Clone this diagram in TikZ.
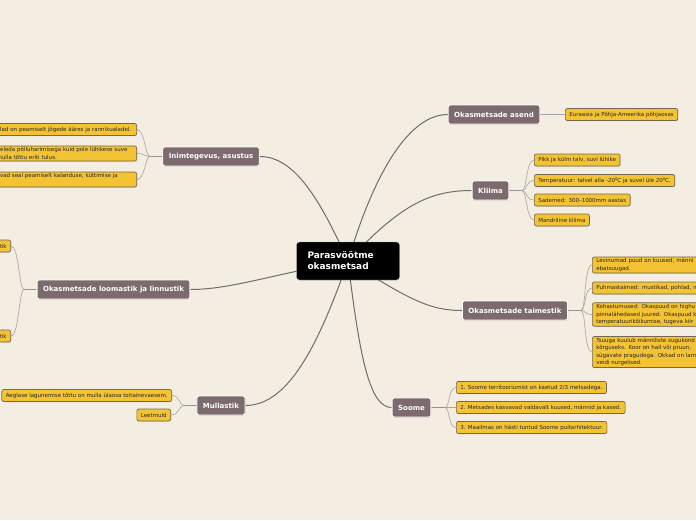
\documentclass[tikz,border=0pt]{standalone}
\usepackage{fontspec}
\setmainfont{DejaVu Sans}
\usetikzlibrary{positioning, shadows, backgrounds}

\definecolor{paper}{RGB}{243,237,226}
\definecolor{topicfill}{RGB}{124,106,110}
\definecolor{leaffill}{RGB}{243,195,52}
\definecolor{leafedge}{RGB}{118,104,80}
\definecolor{linkcol}{RGB}{110,110,110}
\definecolor{leaflinkcol}{RGB}{165,165,165}

\newcommand{\degsup}{\raisebox{2pt}{\fontsize{3.6}{4}\selectfont 0}}

\begin{document}
\begin{tikzpicture}[
        x=1pt, y=-1pt,
        root/.style  = {fill=black, draw=gray!60, rounded corners=3pt, text=white, align=left,
                        font=\fontsize{9}{11}\selectfont\bfseries, text width=81pt, inner xsep=11pt,
                        minimum height=38pt},
        topic/.style = {fill=topicfill, draw=white, line width=0.9pt, rounded corners=2pt, text=white,
                        font=\fontsize{7}{8}\selectfont\bfseries, minimum height=19pt, inner xsep=6pt,
                        drop shadow={shadow xshift=0.5pt, shadow yshift=-0.7pt, opacity=0.3}},
        leaf/.style  = {fill=leaffill, draw=leafedge, line width=0.7pt, rounded corners=2pt, align=left,
                        text=black!85, font=\fontsize{5.5}{7.5}\selectfont, minimum height=12pt,
                        inner xsep=4pt, inner ysep=1.6pt,
                        drop shadow={shadow xshift=0.4pt, shadow yshift=-0.6pt, opacity=0.3}},
        mainlink/.style = {draw=linkcol, line width=1pt},
        leaflink/.style = {draw=leaflinkcol, line width=0.6pt},
        stub/.style     = {draw=leaflinkcol!90!black, line width=1.6pt}
    ]
        \useasboundingbox (0,0) rectangle (696,520);
        \clip (0,0) rectangle (696,520);

        % centre and topics
        \node[root]  (root)   at (348,261)   {Parasvöötme\\okasmetsad};
        \node[topic] (asend)  at (494,114.5) {Okasmetsade asend};
        \node[topic] (kliima) at (490.5,190.5) {Kliima};
        \node[topic] (taim)   at (515,310.5) {Okasmetsade taimestik};
        \node[topic] (soome)  at (411.5,407.5) {Soome};
        \node[topic] (mull)   at (221,405.5) {Mullastik};
        \node[topic] (loom)   at (113.5,289.5) {Okasmetsade loomastik ja linnustik};
        \node[topic] (inim)   at (211,156.5) {Inimtegevus, asustus};

        % leaves, right side
        \node[leaf, anchor=west] (as1) at (565,114.5) {Euraasia ja Põhja-Ameerika põhjaosas};

        \node[leaf, anchor=west] (kl1) at (534,160)   {Pikk ja külm talv, suvi lühike};
        \node[leaf, anchor=west] (kl2) at (534,180.5) {Temperatuur: talvel alla -20\degsup C ja suvel üle 20\degsup C.};
        \node[leaf, anchor=west] (kl3) at (534,200)   {Sademed: 300--1000mm aastas};
        \node[leaf, anchor=west] (kl4) at (534,220)   {Mandriline kliima};

        \node[leaf, anchor=west, text width=200pt] (ta1) at (592,265)   {Levinumad puud on kuused, männi\\ebatsuugad.};
        \node[leaf, anchor=west, text width=200pt] (ta2) at (592,288)   {Puhmastaimed: mustikad, pohlad, m};
        \node[leaf, anchor=west, text width=200pt] (ta3) at (592,314.5) {Kohastumused: Okaspuud on highu\\pinnalähedased juured. Okaspuud k\\temperatuurikõikumise, tugeva kiir};
        \node[leaf, anchor=west, text width=200pt] (ta4) at (592,352)   {Tsuuga kuulub männiliste sugukond\\kõrguseks. Koor on hall või pruun, \\sügavate pragudega. Okkad on lam\\veidi nurgelised.};

        \node[leaf, anchor=west] (so1) at (456,387.5) {1. Soome territooriumist on kaetud 2/3 metsadega.};
        \node[leaf, anchor=west] (so2) at (456,407.5) {2. Metsades kasvavad valdavalt kuused, männid ja kased.};
        \node[leaf, anchor=west] (so3) at (456,427.5) {3. Maailmas on hästi tuntud Soome puitarhitektuur.};

        % leaves, left side
        \node[leaf, anchor=east] (mu1) at (172,395.5) {Aeglase lagunemise tõttu on mulla ülaosa toitainevaesem.};
        \node[leaf, anchor=east] (mu2) at (171,415)   {Leetmuld};

        \node[leaf, anchor=east] (lo1) at (11,246) {tik};
        \node[leaf, anchor=east] (lo2) at (11,336) {tik};

        \node[leaf, anchor=east, text width=136pt] (in1) at (137,129.5) {ulad on peamiselt jõgede ääres ja rannikualadel.};
        \node[leaf, anchor=east, text width=136pt] (in2) at (137,153.5) {geleda põlluharimisega kuid pole lühikese suve\\mulla tõttu eriti tulus.};
        \node[leaf, anchor=east, text width=136pt] (in3) at (137,179.5) {evad seal peamiselt kalanduse, küttimise ja\\~};

        \begin{scope}[on background layer]
            \fill[paper] (0,0) rectangle (696,520);

            % centre to topics
            \draw[mainlink] (root.center) .. controls (375,170) and (410,114.5) .. (asend.west);
            \draw[mainlink] (root.center) .. controls (400,205) and (430,190.5) .. (kliima.west);
            \draw[mainlink] (root.center) .. controls (410,300) and (430,310.5) .. (taim.west);
            \draw[mainlink] (root.center) .. controls (360,360) and (370,407.5) .. (soome.west);
            \draw[mainlink] (root.center) .. controls (320,340) and (290,405.5) .. (mull.east);
            \draw[mainlink] (root.center) .. controls (270,275) and (230,289.5) .. (loom.east);
            \draw[mainlink] (root.center) .. controls (320,200) and (295,156.5) .. (inim.east);

            % topics to leaves
            \draw[leaflink] (asend.east) -- (as1.west);

            \coordinate (klS) at (522,190.5);
            \draw[stub] (kliima.east) -- (klS);
            \foreach \l in {kl1,kl2,kl3,kl4}
                \draw[leaflink] (klS) .. controls +(5,0) and +(-8,0) .. (\l.west);

            \coordinate (taS) at (581,310.5);
            \draw[stub] (taim.east) -- (taS);
            \foreach \l in {ta1,ta2,ta3,ta4}
                \draw[leaflink] (taS) .. controls +(5,0) and +(-8,0) .. (\l.west);

            \coordinate (soS) at (445,407.5);
            \draw[stub] (soome.east) -- (soS);
            \foreach \l in {so1,so2,so3}
                \draw[leaflink] (soS) .. controls +(5,0) and +(-8,0) .. (\l.west);

            \coordinate (muS) at (184,405.5);
            \draw[stub] (mull.west) -- (muS);
            \foreach \l in {mu1,mu2}
                \draw[leaflink] (muS) .. controls +(-5,0) and +(8,0) .. (\l.east);

            \coordinate (loS) at (24,289.5);
            \draw[stub] (loom.west) -- (loS);
            \foreach \l in {lo1,lo2}
                \draw[leaflink] (loS) .. controls +(-5,0) and +(8,0) .. (\l.east);

            \coordinate (inS) at (150,156.5);
            \draw[stub] (inim.west) -- (inS);
            \foreach \l in {in1,in2,in3}
                \draw[leaflink] (inS) .. controls +(-5,0) and +(8,0) .. (\l.east);
        \end{scope}
\end{tikzpicture}
\end{document}
